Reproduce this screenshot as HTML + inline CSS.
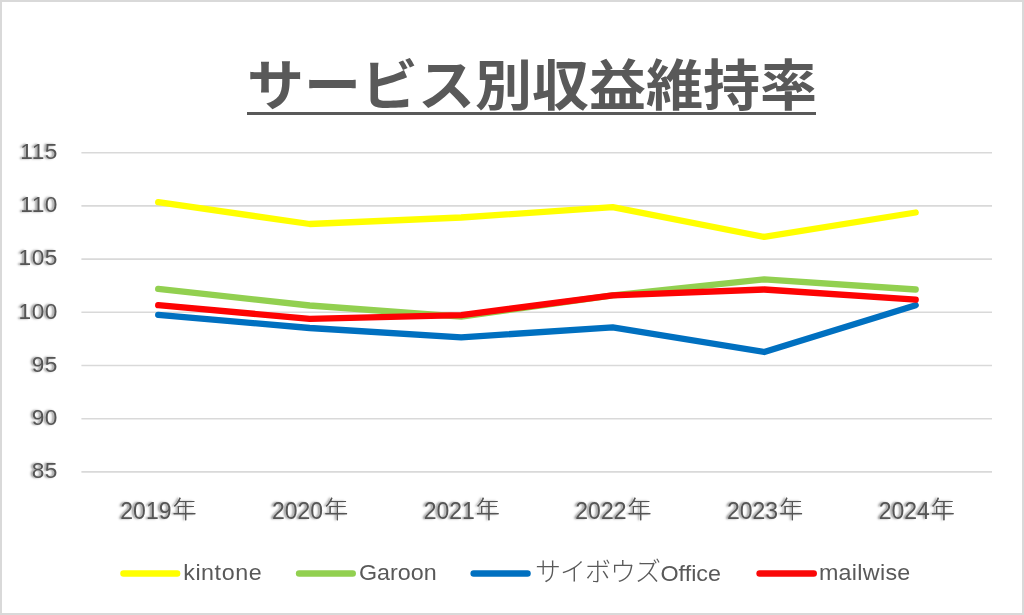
<!DOCTYPE html>
<html lang="ja">
<head>
<meta charset="utf-8">
<title>サービス別収益維持率</title>
<style>
html,body{margin:0;padding:0;background:#fff;}
body{width:1024px;height:615px;position:relative;overflow:hidden;font-family:"Liberation Sans","Noto Sans CJK JP",sans-serif;color:#595959;}
#frame{position:absolute;left:0;top:0;width:1020px;height:611px;border:2px solid #d9d9d9;background:#fff;}
svg{position:absolute;left:0;top:0;}
.t{position:absolute;white-space:nowrap;line-height:1;}
#title{left:247px;top:58px;font-size:57px;transform:scaleY(.955);transform-origin:50% 50%;font-weight:bold;font-family:"Liberation Sans","Noto Sans CJK JP",sans-serif;color:#595959;}
#uline{position:absolute;left:246.8px;top:112px;width:569.4px;height:3.2px;background:#595959;}
.yl{left:0;width:57.9px;text-align:right;font-size:22.7px;letter-spacing:.5px;text-shadow:-2px -0.2px 2.2px rgba(0,0,0,.45);color:#555;}
.xl{font-size:23px;letter-spacing:0;padding-left:1.4px;text-shadow:-2px -0.2px 2.2px rgba(0,0,0,.45);color:#555;width:120px;text-align:center;}
.xl span{font-size:24px;font-weight:300;margin-left:1px;position:relative;top:-1.1px;text-shadow:-2px -0.2px 2.2px rgba(0,0,0,.45),0 0 .4px rgba(0,0,0,.6);}
.lg{font-size:23.3px;color:#595959;transform:scaleY(.97);transform-origin:0 19.7px;margin-top:-.2px;}
.lg.kk{transform:none;margin-top:0;}
.lg .k{font-weight:300;font-size:26px;letter-spacing:-1px;}
</style>
</head>
<body>
<div id="frame"></div>
<svg width="1024" height="615" viewBox="0 0 1024 615">
<g stroke="#d9d9d9" stroke-width="1.6" fill="none">
<path d="M81.4 152.7H992M81.4 205.9H992M81.4 259.1H992M81.4 312.3H992M81.4 365.5H992M81.4 418.7H992M81.4 471.9H992"/>
</g>
<g fill="none" stroke-width="6.3" stroke-linecap="round" stroke-linejoin="round">
<polyline stroke="#ffff00" points="158.2,202.1 309.7,224 461.2,217.5 612.7,207.2 764.2,236.9 915.7,212.5"/>
<polyline stroke="#92d050" points="158.2,288.9 309.7,305.5 461.2,316.7 612.7,295.4 764.2,279.4 915.7,289.5"/>
<polyline stroke="#0070c0" points="158.2,314.9 309.7,328 461.2,337.4 612.7,327.3 764.2,352 915.7,305.2"/>
<polyline stroke="#fd0303" points="158.2,305.2 309.7,318.8 461.2,315.1 612.7,295.4 764.2,289.5 915.7,299.7"/>
<path stroke="#ffff00" stroke-width="6.5" d="M123.5 573.5H177.1"/>
<path stroke="#92d050" stroke-width="6.5" d="M299.1 573.5H352.7"/>
<path stroke="#0070c0" stroke-width="6.5" d="M473.7 573.5H527.5"/>
<path stroke="#fa0808" stroke-width="6.5" d="M759.6 573.5H813.7"/>
</g>
</svg>
<div id="title" class="t">サービス別収益維持率</div>
<div id="uline"></div>

<div class="t yl" style="top:140.0px">115</div>
<div class="t yl" style="top:193.2px">110</div>
<div class="t yl" style="top:246.4px">105</div>
<div class="t yl" style="top:299.6px">100</div>
<div class="t yl" style="top:352.8px">95</div>
<div class="t yl" style="top:406.0px">90</div>
<div class="t yl" style="top:459.2px">85</div>

<div class="t xl" style="left:97.0px;top:499px">2019<span>年</span></div>
<div class="t xl" style="left:248.7px;top:499px">2020<span>年</span></div>
<div class="t xl" style="left:400.4px;top:499px">2021<span>年</span></div>
<div class="t xl" style="left:552.0px;top:499px">2022<span>年</span></div>
<div class="t xl" style="left:703.7px;top:499px">2023<span>年</span></div>
<div class="t xl" style="left:855.4px;top:499px">2024<span>年</span></div>

<div class="t lg" style="left:183.2px;top:561px;letter-spacing:.55px">kintone</div>
<div class="t lg" style="left:359px;top:561px">Garoon</div>
<div class="t lg kk" style="left:535px;top:558.5px"><span class="k">サイボウズ</span></div>
<div class="t lg" style="left:660.5px;top:562px">Office</div>
<div class="t lg" style="left:818.9px;top:561px;letter-spacing:.3px">mailwise</div>
</body>
</html>
